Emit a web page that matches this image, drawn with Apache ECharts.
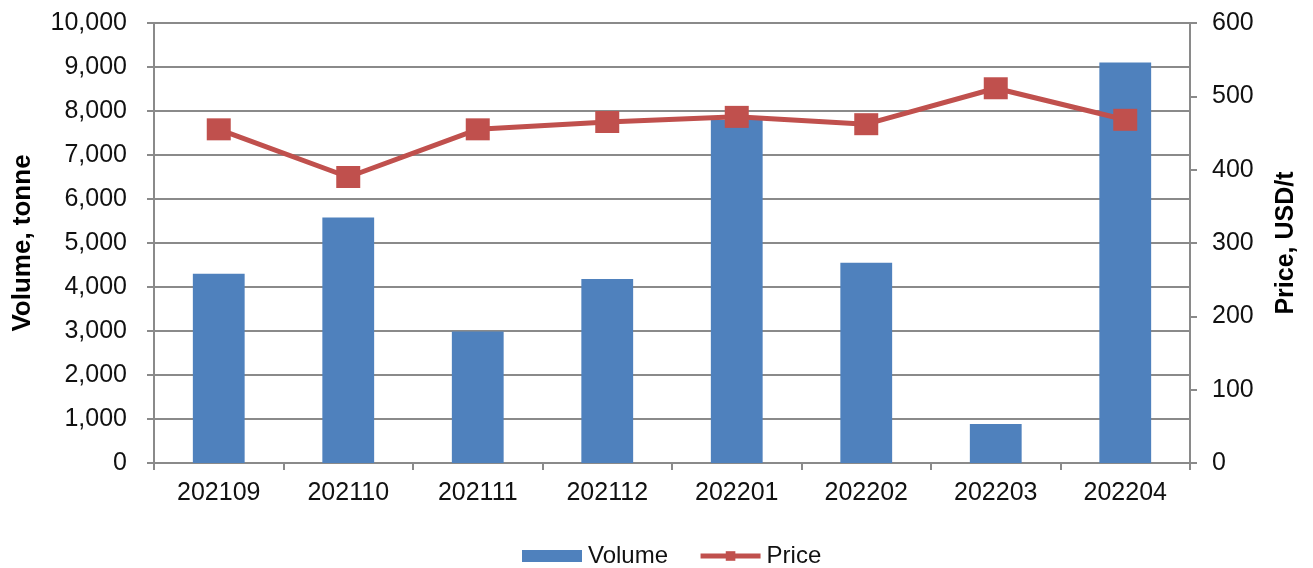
<!DOCTYPE html>
<html>
<head>
<meta charset="utf-8">
<script src="https://cdn.jsdelivr.net/npm/echarts@6/dist/echarts.min.js"></script>
<style>
html,body{margin:0;padding:0;background:#fff;}
#chart{width:1313px;height:568px;}
</style>
</head>
<body>
<div id="chart"></div>
<script>
const categories = ['202109','202110','202111','202112','202201','202202','202203','202204'];
const volume = [4300, 5580, 2990, 4180, 7800, 4550, 885, 9100];
const price = [455, 390, 455, 465, 472, 462, 511, 468];
const volumeTicks = {min: 0, max: 10000, interval: 1000};
const priceTicks = {min: 0, max: 600, interval: 100};

const FONT = '"Liberation Sans", Arial, sans-serif';
const GRAY = '#8a8a8a';
const TXT = '#111111';
const chart = echarts.init(document.getElementById('chart'), null, {renderer: 'canvas'});
chart.setOption({
  animation: false,
  backgroundColor: '#ffffff',
  textStyle: {fontFamily: FONT},
  grid: {left: 154, right: 123, top: 23, bottom: 105, containLabel: false},
  legend: {
    left: 517, top: 539,
    itemWidth: 60, itemHeight: 12, itemGap: 30,
    textStyle: {fontFamily: FONT, fontSize: 24, color: TXT, padding: [0,0,0,1]},
    data: [
      {name: 'Volume', icon: 'rect'},
      {name: 'Price', lineStyle: {width: 5, color: '#C0504D'}}
    ]
  },
  xAxis: {
    type: 'category',
    data: categories,
    boundaryGap: true,
    axisLine: {show: true, lineStyle: {color: GRAY, width: 2}},
    axisTick: {show: true, length: 7, lineStyle: {color: GRAY, width: 2}},
    axisLabel: {fontFamily: FONT, fontSize: 25, color: TXT, margin: 18},
    splitLine: {show: false}
  },
  yAxis: [
    {
      type: 'value', position: 'left',
      min: volumeTicks.min, max: volumeTicks.max, interval: volumeTicks.interval,
      name: 'Volume, tonne', nameLocation: 'middle', nameGap: 118,
      nameTextStyle: {fontFamily: FONT, fontSize: 26, fontWeight: 'bold', color: '#000'},
      axisLine: {show: true, lineStyle: {color: GRAY, width: 2}},
      axisTick: {show: true, length: 7, lineStyle: {color: GRAY, width: 2}},
      axisLabel: {fontFamily: FONT, fontSize: 25, color: TXT, margin: 27,
        formatter: v => v.toLocaleString('en-US')},
      splitLine: {show: true, lineStyle: {color: GRAY, width: 2}}
    },
    {
      type: 'value', position: 'right',
      min: priceTicks.min, max: priceTicks.max, interval: priceTicks.interval,
      name: 'Price, USD/t', nameLocation: 'middle', nameGap: 84,
      nameTextStyle: {fontFamily: FONT, fontSize: 25, fontWeight: 'bold', color: '#000'},
      axisLine: {show: true, lineStyle: {color: GRAY, width: 2}},
      axisTick: {show: true, length: 7, lineStyle: {color: GRAY, width: 2}},
      axisLabel: {fontFamily: FONT, fontSize: 25, color: TXT, margin: 22},
      splitLine: {show: false}
    }
  ],
  series: [
    {
      name: 'Volume', type: 'bar', yAxisIndex: 0,
      data: volume, barWidth: '40%',
      itemStyle: {color: '#4F81BD'}
    },
    {
      name: 'Price', type: 'line', yAxisIndex: 1,
      data: price,
      symbol: 'rect', symbolSize: [24, 22],
      lineStyle: {color: '#C0504D', width: 5},
      itemStyle: {color: '#C0504D'}
    }
  ]
});
</script>
</body>
</html>
